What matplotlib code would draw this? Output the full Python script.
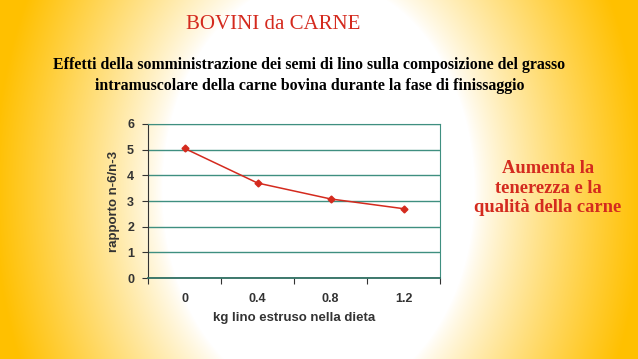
import numpy as np
import matplotlib
matplotlib.use("Agg")
import matplotlib.pyplot as plt
from matplotlib.colors import to_rgb

# data
categories = ["0", "0.4", "0.8", "1.2"]
ratio_n6_n3 = [5.05, 3.7, 3.08, 2.7]

RED = "#d42a1e"
GRID = "#3f8f80"
TXT = "#333333"

fig = plt.figure(figsize=(6.38, 3.59), dpi=100)

# radial white -> orange background
bg = fig.add_axes([0, 0, 1, 1], zorder=-10)
h, w = 359, 638
yy, xx = np.mgrid[0:h, 0:w]
d = np.sqrt(((xx - 318) / 325.0) ** 2 + ((yy - 190) / 440.0) ** 2)
t = np.clip((d - 0.48) / 0.52, 0, 1) ** 0.85
c0 = np.array([1.0, 1.0, 1.0])
c1 = np.array(to_rgb("#ffc000"))
img = c0[None, None, :] * (1 - t[..., None]) + c1[None, None, :] * t[..., None]
bg.imshow(img, aspect="auto", extent=[0, 1, 0, 1])
bg.axis("off")

fig.text(0.428, 0.932, "BOVINI da CARNE", ha="center", va="center",
         family="Liberation Serif", fontsize=15, color=RED)
fig.text(0.485, 0.79,
         "Effetti della somministrazione dei semi di lino sulla composizione del grasso\n"
         "intramuscolare della carne bovina durante la fase di finissaggio",
         ha="center", va="center", family="Liberation Serif", fontweight="bold",
         fontsize=11.4, linespacing=1.42, color="black")
fig.text(0.859, 0.476, "Aumenta la\ntenerezza e la\nqualità della carne",
         ha="center", va="center", family="Liberation Serif", fontweight="bold",
         fontsize=13.3, linespacing=1.22, color=RED)

ax = fig.add_axes([0.232, 0.2256, 0.458, 0.429])
ax.patch.set_alpha(0)
x = np.arange(len(categories))
ax.plot(x, ratio_n6_n3, color=RED, lw=1.1, marker="D", ms=3.5, zorder=3)

ax.set_ylim(0, 6)
ax.set_xlim(-0.5, len(categories) - 0.5)
ax.set_yticks(range(0, 7))
ax.grid(axis="y", color=GRID, lw=1)
ax.set_xticks(np.arange(-0.5, len(categories), 1.0))
ax.set_xticklabels([])
ax.set_xticks(x, minor=True)
ax.set_xticklabels(categories, minor=True)
ax.tick_params(axis="x", which="minor", length=0, pad=11)
ax.tick_params(axis="x", which="major", length=4, color=TXT)
ax.tick_params(axis="y", length=4, color=TXT, pad=6)
for lab in ax.get_xticklabels(minor=True) + ax.get_yticklabels():
    lab.set_family("Liberation Sans")
    lab.set_fontweight("bold")
    lab.set_fontsize(9)
    lab.set_color(TXT)
for side in ["top", "right"]:
    ax.spines[side].set_color(GRID)
ax.spines["left"].set_color(TXT)
ax.spines["bottom"].set_color("#2f6f62")
ax.spines["bottom"].set_linewidth(1.3)

ax.set_ylabel("rapporto n-6/n-3", family="Liberation Sans", fontweight="bold",
              fontsize=9.5, color=TXT, labelpad=5)
ax.set_xlabel("kg lino estruso nella dieta", family="Liberation Sans",
              fontweight="bold", fontsize=9.5, color=TXT, labelpad=5)

fig.savefig("out.png", dpi=100)
